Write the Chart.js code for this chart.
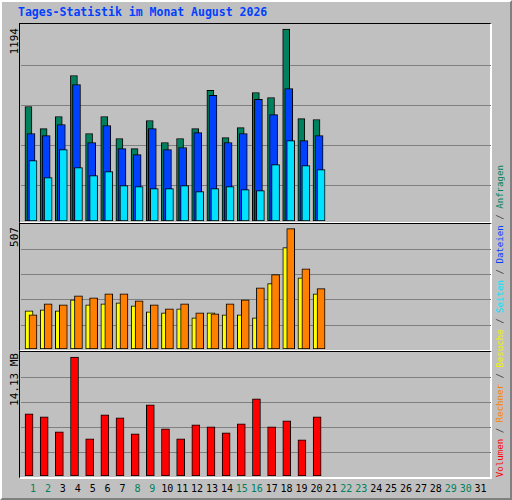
<!DOCTYPE html>
<html><head><meta charset="utf-8">
<script src="https://cdn.jsdelivr.net/npm/chart.js@4"></script>
<style>
body{margin:0;background:#fff;}
#page{position:absolute;left:0;top:0;width:508px;height:496px;background:#C0C0C0;border-left:2px solid #fff;border-top:2px solid #fff;border-right:2px solid #808080;border-bottom:2px solid #808080;}
.panel{position:absolute;left:19px;width:470px;border-top:1px solid #000;border-left:1px solid #000;border-right:2px solid #fff;border-bottom:2px solid #fff;}
canvas{position:absolute;display:block;}
.t{position:absolute;font-family:"DejaVu Sans Mono",monospace;white-space:nowrap;}
.v{writing-mode:vertical-rl;transform:rotate(180deg);}
</style></head><body>
<div id="page"></div>
<div class="t" style="left:18px;top:5px;font-size:11.5px;font-weight:bold;color:#0040FF;">Tages-Statistik im Monat August 2026</div>
<div class="panel" style="top:23px;height:198px;"></div>
<div class="panel" style="top:223px;height:126px;"></div>
<div class="panel" style="top:351px;height:125px;"></div>
<canvas id="c1" width="470" height="196" style="left:21px;top:25px;width:470px;height:196px"></canvas>
<canvas id="c2" width="470" height="124" style="left:21px;top:225px;width:470px;height:124px"></canvas>
<canvas id="c3" width="470" height="123" style="left:21px;top:353px;width:470px;height:123px"></canvas>
<div class="t v" style="left:8px;top:28px;font-size:11px;color:#000;">1194</div>
<div class="t v" style="left:8px;top:227px;font-size:11px;color:#000;">507</div>
<div class="t v" style="left:8px;top:353px;font-size:11px;color:#000;">14.13 MB</div>
<div class="t v" style="left:495px;top:165px;font-size:9.1px;color:#333;"><span style="color:#FF0000">Volumen</span> / <span style="color:#FF8000">Rechner</span> / <span style="color:#F0F000">Besuche</span> / <span style="color:#00E0FF">Seiten</span> / <span style="color:#0040FF">Dateien</span> / <span style="color:#00805C">Anfragen</span></div>
<div id="xl"></div>
<script>
const days = Array.from({length:31},(_,i)=>String(i+1));
const weekend = ["1","2","8","9","15","16","22","23","29","30"];
const anfragen = [712,575,650,905,544,650,513,450,625,488,513,575,812,519,581,799,768,1194,637,631];
const dateien  = [544,531,600,849,488,594,450,413,575,444,457,550,781,488,544,756,662,824,500,531];
const seiten   = [376,270,444,332,282,307,220,214,201,201,220,183,201,214,195,189,351,500,345,320];
const besuche  = [161,165,161,207,186,190,194,182,156,152,169,131,152,144,144,131,275,427,300,232];
const rechner  = [144,190,186,224,215,232,232,203,186,169,190,152,148,190,207,258,313,507,338,254];
const volumen  = [7.38,7.02,5.25,14.13,4.42,7.26,6.91,5.01,8.45,5.60,4.42,6.08,5.84,5.13,6.20,9.16,5.84,6.55,4.30,7.02];
const grid1=[220,469,718,967], grid2=[101,207,314,418], grid3=[2.80,5.72,8.68,11.64];

function ds(vals,off,color,th,ord){
  return {data:vals.map((v,i)=>({x:i+1+off,y:v})),backgroundColor:color,borderColor:'#000',borderWidth:1,borderSkipped:false,barThickness:th,grouped:false,order:ord};
}
function make(id,datasets,max,grid){
  new Chart(document.getElementById(id),{type:'bar',data:{datasets},
    options:{responsive:false,animation:false,events:[],layout:{padding:0},
      plugins:{legend:{display:false},tooltip:{enabled:false}},
      scales:{x:{type:'linear',offset:false,min:0.34,max:31.34,display:false},
        y:{min:0,max:max,border:{display:false},ticks:{display:false},
          grid:{color:'#808080',lineWidth:1,drawTicks:false},
          afterBuildTicks:s=>{s.ticks=grid.map(v=>({value:v}));}}}}});
}
make('c1',[ds(anfragen,-0.17,'#00805C',7,3),ds(dateien,0,'#0040FF',8,2),ds(seiten,0.13,'#00E0FF',8,1)],1219,grid1);
make('c2',[ds(besuche,-0.13,'#FFFF00',8,2),ds(rechner,0.13,'#FF8000',8,1)],522,grid2);
make('c3',[ds(volumen,-0.13,'#FF0000',8,1)],14.6,grid3);
const xl=document.getElementById('xl');
days.forEach((d,i)=>{const s=document.createElement('div');s.className='t';
  s.style.cssText='font-size:10px;top:483px;width:20px;text-align:center;left:'+(23+14.92*i)+'px;color:'+(weekend.includes(d)?'#00805C':'#000');
  s.textContent=d;xl.appendChild(s);});
</script></body></html>
